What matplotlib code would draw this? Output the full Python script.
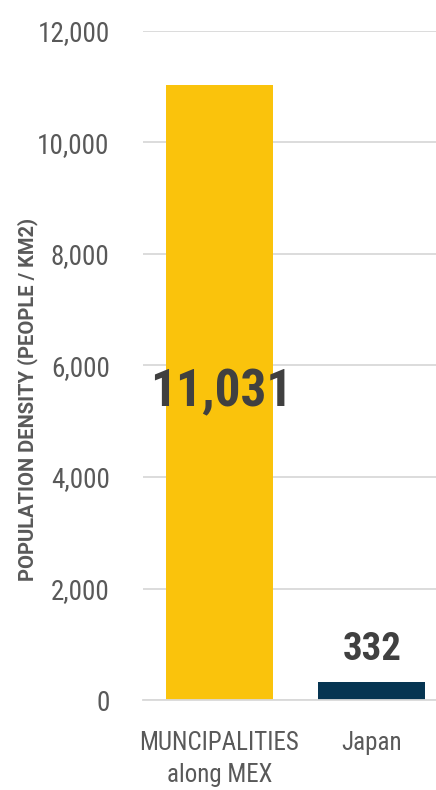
import matplotlib
matplotlib.use("Agg")
import matplotlib.pyplot as plt
from matplotlib import font_manager as fm

categories = ["MUNCIPALITIES\nalong MEX", "Japan"]
values = [11031, 332]
value_labels = ["11,031", "332"]
colors = ["#FAC30C", "#063552"]
yticks = [0, 2000, 4000, 6000, 8000, 10000, 12000]
ytick_labels = ["0", "2,000", "4,000", "6,000", "8,000", "10,000", "12,000"]
ylabel = "POPULATION DENSITY (PEOPLE / KM2)"

names = {f.name for f in fm.fontManager.ttflist}
cond = None
for n in ["Roboto Condensed", "DejaVu Sans Condensed", "Liberation Sans Narrow", "Open Sans Condensed"]:
    if n in names:
        cond = n
        break
fam = cond if cond else "DejaVu Sans"
stretch = "condensed"

fig = plt.figure(figsize=(4.36, 7.90), dpi=100)
ax = fig.add_axes([0.328, 0.1139, 0.672, 0.8469])

x = range(len(categories))
ax.bar(x, values, width=0.70, color=colors, zorder=2)
ax.set_ylim(0, 12000)
ax.set_xlim(-0.5, 1.42)
ax.set_yticks(yticks)
ax.set_yticklabels(ytick_labels, fontsize=19.5, color="#595959", family=fam, fontstretch=stretch)
ax.set_xticks(list(x))
ax.set_xticklabels(categories, fontsize=18, color="#595959", family=fam, fontstretch=stretch, linespacing=1.45)
ax.tick_params(axis="x", length=0, pad=22)
ax.tick_params(axis="y", length=0, pad=24)
ax.grid(axis="y", color="#D9D9D9", linewidth=1.3, zorder=0)
ax.set_axisbelow(True)
for s in ["top", "right", "left"]:
    ax.spines[s].set_visible(False)
ax.spines["bottom"].set_color("#D9D9D9")
ax.spines["bottom"].set_linewidth(1.3)

ax.text(0.01, values[0] / 2, value_labels[0], ha="center", va="center", fontsize=37,
        fontweight="bold", color="#404040", family=fam, fontstretch=stretch, zorder=3)
ax.text(1, values[1] + 250, value_labels[1], ha="center", va="bottom", fontsize=28,
        fontweight="bold", color="#404040", family=fam, fontstretch=stretch, zorder=3)

fig.text(0.063, 0.494, ylabel, rotation=90, ha="center", va="center", fontsize=14.5,
         fontweight="bold", color="#595959", family=["Roboto", "DejaVu Sans"])

fig.savefig("out.png", dpi=100)
